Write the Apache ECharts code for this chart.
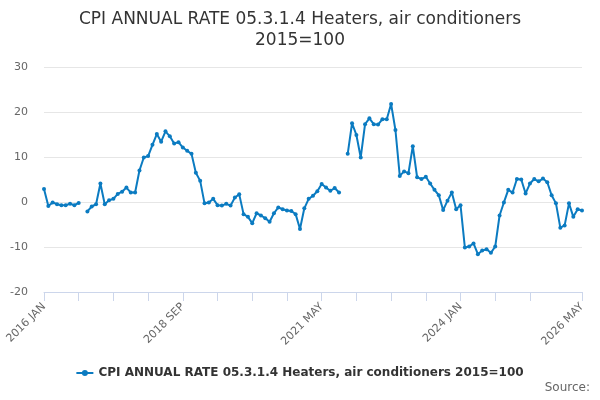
<!DOCTYPE html>
<html>
<head>
<meta charset="utf-8">
<script src="https://cdn.jsdelivr.net/npm/echarts@6/dist/echarts.min.js"></script>
<style>html,body{margin:0;padding:0;background:#fff}#c{width:600px;height:400px}</style>
</head>
<body>
<div id="c"></div>
<script>
var years = [2016,2017,2018,2019,2020,2021,2022,2023,2024,2025,2026];
var monthNames = ['JAN','FEB','MAR','APR','MAY','JUN','JUL','AUG','SEP','OCT','NOV','DEC'];
var categories = [];
years.forEach(function(y){ monthNames.forEach(function(m){ categories.push(y + ' ' + m); }); });
categories = categories.slice(0, 125); // 2016 JAN .. 2026 MAY

var seriesName = 'CPI ANNUAL RATE 05.3.1.4 Heaters, air conditioners 2015=100';
var values = [
  2.9, -0.9, -0.1, -0.5, -0.7, -0.7, -0.4, -0.7, -0.2, null,
  -2.1, -1.0, -0.5, 4.1, -0.5, 0.4, 0.7, 1.8, 2.3, 3.2,
  2.1, 2.1, 7.0, 9.9, 10.2, 12.7, 15.1, 13.4, 15.7, 14.6,
  13.0, 13.3, 12.1, 11.4, 10.7, 6.5, 4.7, -0.3, -0.1, 0.7,
  -0.7, -0.8, -0.4, -0.8, 1.0, 1.7, -2.7, -3.3, -4.7, -2.5,
  -3.0, -3.6, -4.4, -2.5, -1.2, -1.6, -1.9, -2.0, -2.7, -6.0,
  -1.4, 0.7, 1.4, 2.4, 4.0, 3.2, 2.5, 3.1, 2.1, null,
  10.7, 17.5, 14.9, 9.9, 17.3, 18.6, 17.3, 17.2, 18.4, 18.4,
  21.8, 16.0, 5.8, 6.8, 6.4, 12.4, 5.5, 5.1, 5.6, 4.1,
  2.7, 1.5, -1.8, 0.3, 2.1, -1.6, -0.7, -10.1, -9.9, -9.2,
  -11.6, -10.8, -10.5, -11.3, -9.9, -3.0, -0.1, 2.7, 2.1, 5.1,
  5.0, 1.9, 4.1, 5.1, 4.6, 5.2, 4.4, 1.5, -0.3, -5.7,
  -5.2, -0.3, -3.3, -1.6, -1.9
];
var yMin = -20, yMax = 30, yStep = 10;

var chart = echarts.init(document.getElementById('c'), null, {renderer: 'canvas'});
var last = categories.length - 1;
chart.setOption({
  animation: false,
  textStyle: {fontFamily: 'DejaVu Sans'},
  title: {
    text: 'CPI ANNUAL RATE 05.3.1.4 Heaters, air conditioners\n2015=100',
    left: 'center', top: 4,
    textStyle: {fontSize: 17, fontWeight: 'normal', color: '#333', lineHeight: 21, fontFamily: 'DejaVu Sans'}
  },
  legend: {
    bottom: 16, left: 'center',
    itemWidth: 17, itemHeight: 6, itemGap: 6,
    textStyle: {fontSize: 12, fontWeight: 'bold', color: '#333', fontFamily: 'DejaVu Sans'},
    data: [{name: seriesName, icon: 'path://M0,2 L6,2 L6,4 L0,4 Z M11,2 L17,2 L17,4 L11,4 Z M5.5,3 A3,3 0 1,1 11.5,3 A3,3 0 1,1 5.5,3 Z'}]
  },
  graphic: [{
    type: 'text', right: 10, top: 382,
    style: {text: 'Source:', fontSize: 12, fill: '#666', fontFamily: 'DejaVu Sans'}
  }],
  grid: {left: 44, right: 18, top: 67, bottom: 108},
  xAxis: {
    type: 'category', data: categories, boundaryGap: false,
    axisLine: {onZero: false, lineStyle: {color: '#ccd6eb'}},
    axisTick: {show: true, length: 9, lineStyle: {color: '#ccd6eb'},
      interval: function(i){ return (i % 8 === 0 && i <= 112) || i === last; }},
    axisLabel: {rotate: 45, fontSize: 11, color: '#666', margin: 13,
      interval: function(i){ return i % 32 === 0 || i === last; }},
    splitLine: {show: false}
  },
  yAxis: {
    type: 'value', min: yMin, max: yMax, interval: yStep,
    axisLine: {show: false}, axisTick: {show: false},
    axisLabel: {fontSize: 11, color: '#666', margin: 16},
    splitLine: {lineStyle: {color: '#e6e6e6'}}
  },
  series: [{
    name: seriesName, type: 'line', data: values,
    connectNulls: false,
    symbol: 'circle', symbolSize: 4, showSymbol: true, showAllSymbol: true,
    lineStyle: {width: 2, color: '#0b7bc1'},
    itemStyle: {color: '#0b7bc1'}
  }]
});
</script>
</body>
</html>
